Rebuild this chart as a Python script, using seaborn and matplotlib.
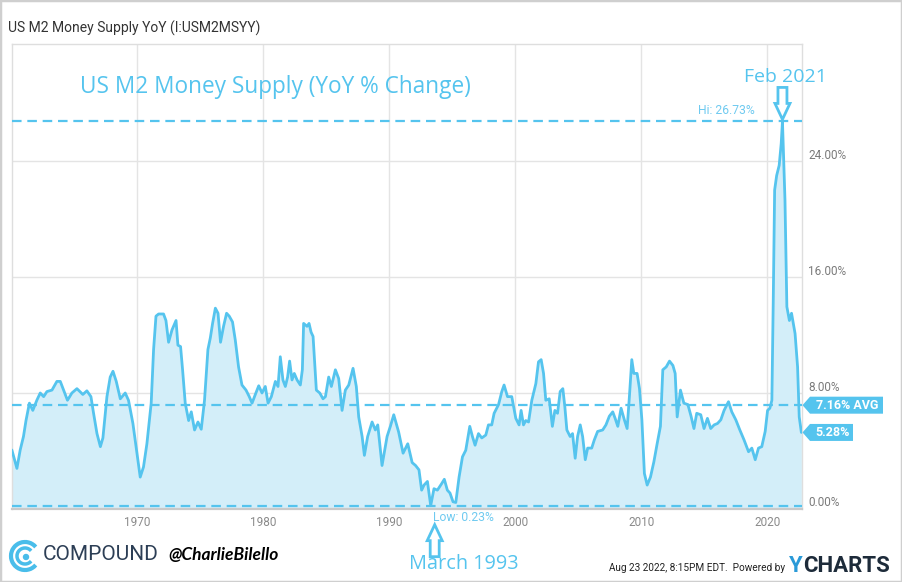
import matplotlib
matplotlib.use("Agg")
import numpy as np
import pandas as pd
import seaborn as sns
import matplotlib.pyplot as plt
from matplotlib.patches import Polygon, Rectangle, Arc, Circle
from matplotlib.transforms import Affine2D, ScaledTranslation, blended_transform_factory

# ---------------- data ----------------
years = [
    1960.08, 1960.26, 1960.48, 1960.74, 1961.0, 1961.2, 1961.47, 1961.74, 1962.06, 1962.33,
    1962.6, 1962.86, 1963.26, 1963.65, 1963.92, 1964.18, 1964.49, 1964.84, 1965.24, 1965.71,
    1966.03, 1966.35, 1966.56, 1966.83, 1967.1, 1967.3, 1967.62, 1967.88, 1968.1, 1968.36,
    1968.68, 1969.07, 1969.33, 1969.68, 1970.0, 1970.26, 1970.52, 1970.79, 1971.0, 1971.13,
    1971.32, 1971.51, 1971.72, 1972.11, 1972.3, 1972.51, 1972.78, 1973.1, 1973.25, 1973.46,
    1973.62, 1973.83, 1974.1, 1974.31, 1974.57, 1974.84, 1975.1, 1975.36, 1975.63, 1975.82,
    1976.0, 1976.22, 1976.43, 1976.63, 1976.87, 1977.11, 1977.32, 1977.58, 1977.8, 1978.06,
    1978.33, 1978.65, 1978.91, 1979.13, 1979.39, 1979.66, 1979.92, 1980.18, 1980.4, 1980.66,
    1980.98, 1981.19, 1981.37, 1981.58, 1981.77, 1981.95, 1982.11, 1982.3, 1982.48, 1982.7,
    1982.96, 1983.12, 1983.22, 1983.49, 1983.65, 1983.81, 1983.97, 1984.1, 1984.23, 1984.5,
    1984.76, 1984.95, 1985.21, 1985.42, 1985.74, 1986.0, 1986.27, 1986.53, 1986.8, 1987.14,
    1987.4, 1987.59, 1987.86, 1988.04, 1988.3, 1988.65, 1988.91, 1989.1, 1989.44, 1989.84,
    1990.1, 1990.37, 1990.76, 1991.11, 1991.48, 1991.83, 1992.1, 1992.37, 1992.58, 1992.77,
    1993.04, 1993.3, 1993.56, 1993.83, 1994.17, 1994.38, 1994.62, 1994.83, 1995.07, 1995.29,
    1995.55, 1995.82, 1996.08, 1996.4, 1996.61, 1996.82, 1997.09, 1997.35, 1997.67, 1997.88,
    1998.14, 1998.33, 1998.68, 1998.94, 1999.12, 1999.39, 1999.73, 2000.05, 2000.31, 2000.47,
    2000.66, 2000.84, 2001.06, 2001.32, 2001.64, 2001.85, 2002.06, 2002.25, 2002.43, 2002.7,
    2002.95, 2003.15, 2003.36, 2003.57, 2003.78, 2003.94, 2004.1, 2004.36, 2004.55, 2004.76,
    2004.95, 2005.16, 2005.35, 2005.56, 2005.75, 2006.07, 2006.27, 2006.54, 2006.94, 2007.2,
    2007.47, 2007.74, 2007.93, 2008.14, 2008.4, 2008.66, 2008.88, 2009.06, 2009.25, 2009.41,
    2009.67, 2009.86, 2010.05, 2010.25, 2010.47, 2010.73, 2011.0, 2011.26, 2011.52, 2011.71,
    2011.98, 2012.24, 2012.51, 2012.69, 2012.85, 2013.11, 2013.38, 2013.7, 2013.95, 2014.18,
    2014.4, 2014.72, 2014.98, 2015.25, 2015.51, 2015.78, 2016.05, 2016.31, 2016.57, 2016.92,
    2017.18, 2017.5, 2017.82, 2018.16, 2018.51, 2018.77, 2019.04, 2019.3, 2019.56, 2019.83,
    2020.02, 2020.2, 2020.36, 2020.47, 2020.58, 2020.74, 2020.94, 2021.1, 2021.2, 2021.4,
    2021.55, 2021.75, 2021.92, 2022.2, 2022.4, 2022.53, 2022.7,
]
values = [
    4.07, 3.5, 2.8, 4.07, 5.0, 6.1, 7.3, 6.8, 7.5, 8.0,
    7.75, 8.1, 8.2, 8.8, 8.8, 8.2, 7.5, 8.0, 8.3, 7.9,
    8.15, 7.75, 6.6, 5.2, 4.3, 4.9, 7.75, 9.1, 9.5, 8.8,
    7.6, 8.0, 7.5, 5.9, 3.85, 2.2, 2.9, 4.5, 6.2, 7.3,
    11.0, 13.3, 13.45, 13.45, 13.0, 11.5, 12.35, 13.0, 11.3, 11.2,
    9.6, 7.3, 6.1, 6.7, 5.45, 6.0, 5.5, 7.5, 11.0, 11.8,
    12.8, 13.85, 13.5, 11.5, 12.6, 13.5, 13.3, 12.9, 11.65, 9.8,
    8.55, 8.2, 7.75, 7.3, 7.9, 8.5, 8.0, 8.45, 7.3, 7.75,
    8.8, 8.45, 10.5, 8.9, 8.45, 9.1, 10.2, 8.9, 9.35, 8.9,
    8.55, 9.6, 12.8, 12.6, 12.8, 12.2, 11.9, 10.05, 8.2, 8.0,
    7.6, 7.75, 9.1, 8.45, 9.6, 9.0, 6.8, 8.2, 8.55, 9.7,
    8.45, 6.35, 5.0, 3.7, 5.0, 6.0, 5.45, 5.8, 3.0, 5.0,
    5.7, 6.5, 5.3, 3.85, 4.5, 3.2, 3.0, 2.7, 1.3, 1.65,
    1.9, 0.23, 1.4, 1.3, 1.75, 2.05, 1.3, 1.1, 0.5, 0.45,
    2.2, 3.6, 4.05, 5.7, 5.0, 4.4, 5.2, 4.9, 5.1, 5.8,
    5.8, 6.6, 7.2, 8.1, 8.55, 7.75, 7.75, 6.25, 5.8, 6.8,
    5.8, 6.1, 6.0, 7.5, 8.65, 10.15, 10.3, 9.35, 7.5, 7.6,
    5.7, 6.8, 6.6, 8.1, 8.3, 7.05, 5.45, 5.0, 5.2, 3.5,
    5.0, 5.8, 5.0, 3.4, 4.2, 4.2, 4.75, 5.35, 5.45, 5.8,
    6.4, 6.7, 6.25, 5.7, 6.95, 6.15, 5.55, 7.75, 10.3, 9.35,
    9.35, 8.3, 6.15, 2.45, 1.65, 2.2, 3.25, 4.5, 5.7, 9.6,
    9.8, 10.2, 9.9, 9.35, 6.35, 8.2, 7.3, 7.2, 6.4, 5.55,
    6.6, 6.5, 5.55, 6.25, 5.55, 5.8, 5.9, 6.15, 6.8, 7.4,
    6.7, 6.15, 5.45, 4.75, 3.95, 4.2, 3.4, 4.2, 4.3, 5.35,
    6.8, 6.95, 7.5, 14.4, 22.0, 23.0, 23.7, 25.2, 26.73, 21.3,
    13.95, 13.0, 13.5, 12.1, 9.8, 6.35, 5.28,
]
hi_value = 26.73
low_value = 0.23
avg_value = 7.16
last_value = 5.28
ytick_vals = [0, 8, 16, 24]
ytick_labels = ["0.00%", "8.00%", "16.00%", "24.00%"]
xtick_years = [1970, 1980, 1990, 2000, 2010, 2020]

title_text = "US M2 Money Supply YoY (I:USM2MSYY)"
note_text = "US M2 Money Supply (YoY % Change)"
hi_label = "Hi: 26.73%"
low_label = "Low: 0.23%"
avg_badge = "7.16% AVG"
last_badge = "5.28%"
peak_note = "Feb 2021"
low_note = "March 1993"

# ---------------- style ----------------
BLUE = "#55c4ee"
FILL = "#d3eef9"
LIGHTBLUE_TXT = "#6fcaf0"
GRID = "#e4e4e4"

sns.set_style("white")
plt.rcParams["font.family"] = ["Roboto", "DejaVu Sans"]

W, H = 902, 582
fig = plt.figure(figsize=(W / 100, H / 100), dpi=100)
fig.patch.set_facecolor("white")

def fx(px):
    return px / W

def fy(py):
    return 1 - py / H

ax = fig.add_axes([fx(12), fy(509), fx(802) - fx(12), fy(44) - fy(509)])

df = pd.DataFrame({"year": years, "value": values})
ax.fill_between(df["year"], df["value"], 0, color=FILL, lw=0, zorder=2)
sns.lineplot(data=df, x="year", y="value", ax=ax, color=BLUE, lw=2, zorder=3)

low_year = df.loc[df["value"].idxmin(), "year"]
peak_year = df.loc[df["value"].idxmax(), "year"]

dash = (0, (4.3, 2.6))
for v in (hi_value, avg_value, low_value):
    ax.axhline(v, color=BLUE, lw=1.6, ls=dash, zorder=4)

ax.set_xlim(1960.09, 2022.75)
ax.set_ylim(0, 32.07)
ax.set_xticks(xtick_years)
ax.set_yticks(ytick_vals)
ax.set_xticklabels([])
ax.set_yticklabels([])
ax.tick_params(length=0)
ax.grid(True, color=GRID, lw=1)
ax.set_axisbelow(True)
ax.set_xlabel("")
ax.set_ylabel("")
for side in ("left", "top", "right"):
    ax.spines[side].set_color("#dedede")
    ax.spines[side].set_linewidth(1)
ax.spines["bottom"].set_color("#c9c9c9")
ax.spines["bottom"].set_linewidth(1.6)

# tick labels
for yr in xtick_years:
    ax.annotate(str(yr), xy=(yr, 0), xycoords=("data", "axes fraction"),
                xytext=(0, -13), textcoords="offset pixels", ha="center", va="center",
                color="#8a8a8a", fontsize=8.5)
for v, lab in zip(ytick_vals, ytick_labels):
    ax.annotate(lab, xy=(1, v), xycoords=("axes fraction", "data"),
                xytext=(6, 6), textcoords="offset pixels", ha="left", va="center",
                color="#7a7a7a", fontsize=8.5)

# hi / low labels
ax.annotate(hi_label, xy=(peak_year, hi_value), xytext=(-28, 11), textcoords="offset pixels",
            ha="right", va="center", color=LIGHTBLUE_TXT, fontsize=8.7)
ax.annotate(low_label, xy=(low_year, low_value), xytext=(2, -12), textcoords="offset pixels",
            ha="left", va="center", color=LIGHTBLUE_TXT, fontsize=8.7,
            annotation_clip=False)

# badges on the right
blend = blended_transform_factory(ax.transAxes, ax.transData)

def badge(value, text, width):
    tr = Affine2D() + ScaledTranslation(1.0, value, blend)
    verts = [(0.5, 0), (8, 8.5), (width, 8.5), (width, -8.5), (8, -8.5)]
    poly = Polygon(verts, closed=True, transform=tr, facecolor=BLUE, edgecolor="none",
                   clip_on=False, zorder=6)
    fig.add_artist(poly)
    t = fig.text(8 + (width - 8) / 2 + 1, 0, text, transform=tr, ha="center", va="center",
                 color="white", fontsize=9, fontweight="bold", zorder=7)
    t.set_clip_on(False)

badge(avg_value, avg_badge, 81)
badge(last_value, last_badge, 51)

# hollow arrows
def hollow_arrow(x, y, ox, oy, direction):
    s = -1 if direction == "up" else 1
    verts = [(0, 0), (-7.5, 16 * s), (-4.5, 16 * s), (-4.5, 32 * s), (4.5, 32 * s),
             (4.5, 16 * s), (7.5, 16 * s)]
    verts = [(vx + ox, vy + oy) for vx, vy in verts]
    tr = Affine2D() + ScaledTranslation(x, y, ax.transData)
    fig.add_artist(Polygon(verts, closed=True, transform=tr, facecolor="white",
                           edgecolor=BLUE, lw=2, clip_on=False, zorder=8, joinstyle="miter"))

hollow_arrow(peak_year, hi_value, 0, 2, "down")
hollow_arrow(low_year, low_value, 4, -19, "up")

# handwritten-style notes
NOTE_FONT = ["Open Sans", "DejaVu Sans"]
fig.text(fx(80), fy(87), note_text, ha="left", va="center", color=BLUE,
         fontsize=16.3, family=NOTE_FONT)
fig.text(fx(785), fy(77), peak_note, ha="center", va="center", color=BLUE,
         fontsize=14, family=NOTE_FONT)
fig.text(fx(464), fy(564), low_note, ha="center", va="center", color=BLUE,
         fontsize=14.3, family=NOTE_FONT)

# title
fig.text(fx(8), fy(28), title_text, ha="left", va="center", color="#333333", fontsize=10)

# footer
px_tr = Affine2D().scale(1, -1).translate(0, H)
fig.add_artist(Arc((25, 556), 28, 28, theta1=40, theta2=320, transform=px_tr,
                   color="#49bdea", lw=3))
fig.add_artist(Arc((25, 556), 16, 16, theta1=40, theta2=320, transform=px_tr,
                   color="#49bdea", lw=2.5))
fig.add_artist(Circle((26, 557), 2.5, transform=px_tr, color="#49bdea"))
fig.text(fx(43), fy(555), "COMPOUND", ha="left", va="center", color="#2c3e55",
         fontsize=15, fontweight="normal")
fig.text(fx(168), fy(555), "@CharlieBilello", ha="left", va="center", color="black",
         fontsize=12.5, fontstyle="italic", fontweight="bold", family=["Lato", "DejaVu Sans"])
fig.text(fx(785), fy(568), "Aug 23 2022, 8:15PM EDT.  Powered by", ha="right", va="center",
         color="#222222", fontsize=7.2)
fig.text(fx(789), fy(566), "Y", ha="left", va="center", color="#2a9ad8",
         fontsize=16, fontweight="bold")
fig.text(fx(803), fy(566), "CHARTS", ha="left", va="center", color="#1d2b3a",
         fontsize=16, fontweight="bold")

# outer frame
fig.add_artist(Rectangle((0, 0), 1, 1, transform=fig.transFigure, fill=False,
                         edgecolor="#cfcfcf", lw=2.5))

fig.savefig("out.png", dpi=100)
